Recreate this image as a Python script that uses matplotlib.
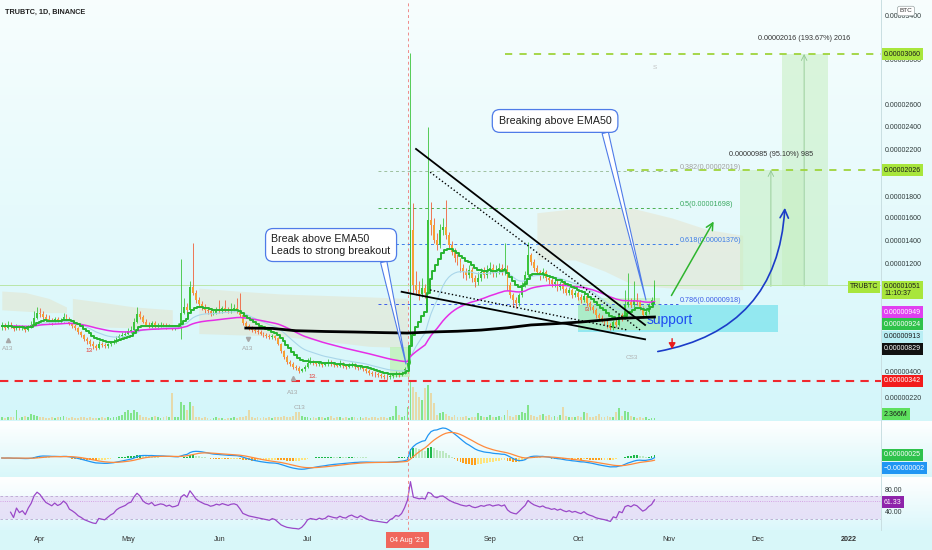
import numpy as np
import pandas as pd
import matplotlib
matplotlib.use("Agg")
import matplotlib.pyplot as plt
from matplotlib import transforms
from matplotlib.patches import Rectangle, FancyArrowPatch

plt.rcParams['font.family'] = ['Liberation Sans', 'DejaVu Sans']

# ---------------- data (prices in satoshi = 1e-8 BTC), daily bars from 2021-03-19 ----------------
first_date = "2021-03-19"
first_open = 750
closes = [
    760, 745, 770, 750, 735, 755, 740, 745, 730, 750, 770,
    820, 860, 850, 830, 810, 800, 790, 810, 795, 805, 830, 815,
    775, 760, 740, 710, 690, 660, 640, 620, 600, 590, 620, 610, 600, 615, 630, 640,
    665, 680, 690, 700, 720, 730, 790, 850, 830,
    790, 770, 760, 780, 750, 760, 770, 765, 750, 760, 745, 750, 760,
    860, 900, 880, 1040, 1000, 950, 920,
    900, 880, 870, 850, 860, 880, 870, 890, 880, 870, 885, 890, 880,
    840, 780, 760, 740, 730, 720, 710, 700, 690, 680, 670, 680, 665,
    620, 560, 520, 480, 460, 440, 430, 410, 420, 440, 470,
    480, 470, 460, 470, 455, 460, 475, 465, 455, 450, 460, 445, 440, 450, 455, 440, 430, 440, 425,
    410, 395, 390, 385, 380, 375, 370, 365, 375, 380, 390, 385, 395, 420, 470, 1500,
    1050, 1020, 990, 1030, 1000, 1580, 1540, 1410, 1365, 1496, 1520, 1450, 1365, 1305, 1252, 1218, 1171, 1143,
    1122, 1157, 1100, 1073, 1100, 1143, 1122, 1157, 1171, 1136, 1157, 1171, 1143, 1171,
    1051, 983, 949, 928, 983, 1051, 1122, 1278, 1218, 1171, 1143, 1115, 1143, 1100,
    1087, 1058, 1073, 1037, 1058, 1023, 1000, 1017, 983, 996, 969, 949, 976, 928,
    900, 879, 843, 821, 806, 790, 767, 743, 790, 767, 843, 821, 914, 935, 914, 949, 935, 893, 843, 864, 914, 949, 1051,
]
highs = [
    790, 785, 800, 790, 770, 775, 770, 765, 760, 770, 800,
    870, 900, 890, 870, 850, 840, 820, 830, 830, 820, 860, 850,
    830, 790, 775, 750, 720, 700, 670, 660, 640, 615, 640, 635, 625, 630, 645, 660,
    680, 700, 710, 720, 740, 760, 820, 900, 870,
    840, 810, 790, 800, 795, 780, 790, 785, 780, 775, 770, 765, 780,
    1240, 960, 930, 1080, 1380, 1020, 970,
    940, 920, 900, 890, 880, 900, 950, 910, 950, 900, 930, 920, 960,
    1000, 850, 800, 775, 755, 745, 735, 725, 715, 705, 700, 695, 690,
    675, 630, 575, 535, 495, 475, 455, 445, 435, 455, 510,
    520, 495, 485, 480, 480, 475, 500, 490, 480, 470, 490, 475, 460, 470, 480, 470, 450, 455, 450,
    440, 425, 410, 405, 400, 395, 390, 385, 390, 395, 405, 400, 410, 440, 500, 3070,
    1740, 1150, 1080, 1100, 1060, 2400, 1750, 1600, 1470, 1550, 1600, 1770, 1480, 1400, 1340, 1290, 1250, 1200,
    1170, 1190, 1180, 1120, 1140, 1170, 1180, 1190, 1220, 1200, 1190, 1210, 1200, 1380,
    1190, 1070, 1000, 970, 1000, 1070, 1150, 1390, 1300, 1240, 1190, 1160, 1170, 1160,
    1120, 1100, 1100, 1090, 1080, 1070, 1040, 1040, 1030, 1020, 1010, 990, 1000, 990,
    945, 915, 895, 860, 840, 825, 805, 780, 805, 810, 860, 860, 1020, 1136, 960, 1080, 1000, 950, 905, 880, 930, 970, 1090,
]
lows = [
    730, 730, 735, 740, 720, 725, 725, 725, 715, 720, 740,
    760, 810, 830, 815, 790, 780, 770, 780, 780, 780, 790, 800,
    765, 745, 725, 695, 670, 645, 620, 600, 580, 570, 580, 595, 585, 590, 600, 620,
    630, 650, 665, 675, 690, 705, 720, 780, 810,
    780, 755, 740, 745, 735, 735, 745, 750, 735, 740, 730, 730, 740,
    660, 850, 860, 870, 980, 930, 900,
    880, 860, 850, 835, 840, 850, 855, 860, 865, 855, 860, 870, 860,
    830, 770, 745, 725, 715, 705, 695, 690, 675, 665, 655, 660, 650,
    610, 545, 505, 465, 445, 425, 415, 395, 400, 410, 430,
    460, 455, 445, 450, 440, 445, 450, 450, 440, 440, 440, 435, 425, 430, 440, 425, 415, 420, 410,
    395, 380, 375, 370, 365, 360, 355, 350, 355, 360, 370, 370, 375, 385, 410, 460,
    1000, 980, 950, 970, 960, 990, 1450, 1380, 1320, 1340, 1450, 1420, 1330, 1280, 1220, 1190, 1140, 1100,
    1090, 1100, 1070, 1040, 1050, 1080, 1100, 1100, 1130, 1110, 1110, 1130, 1120, 1120,
    1020, 960, 900, 890, 910, 970, 1040, 1110, 1190, 1150, 1120, 1090, 1100, 1080,
    1060, 1040, 1040, 1010, 1020, 1000, 980, 985, 960, 970, 950, 925, 935, 910,
    880, 860, 825, 800, 790, 770, 745, 725, 730, 750, 755, 800, 810, 900, 895, 900, 915, 875, 820, 830, 850, 900, 940,
]
volumes_m = [
    4, 3, 5, 4, 5, 15, 3, 4, 6, 4, 9,
    8, 6, 5, 4, 3, 3, 4, 3, 5, 4, 6, 4,
    3, 4, 3, 3, 4, 5, 3, 4, 3, 3, 3, 4, 3, 4, 3, 4,
    5, 6, 8, 12, 15, 10, 15, 12, 8,
    4, 5, 3, 4, 6, 5, 3, 4, 6, 5, 40, 5, 4,
    27, 22, 15, 27, 21, 5, 4,
    3, 4, 3, 2, 3, 4, 3, 3, 2, 3, 3, 4, 3,
    4, 5, 6, 15, 4, 3, 4, 3, 5, 3, 4, 3, 4,
    4, 5, 6, 5, 4, 6, 12, 12, 6, 4, 5,
    3, 4, 3, 5, 4, 3, 4, 6, 3, 4, 5, 3, 4, 3, 4, 5, 3, 4, 3,
    4, 3, 5, 4, 3, 4, 5, 3, 4, 6, 21, 8, 5, 6, 20, 60,
    50, 42, 35, 30, 48, 52, 40, 25, 8, 10, 12, 9, 6, 5, 7, 4, 5, 4,
    6, 3, 5, 4, 10, 6, 4, 5, 7, 4, 5, 6, 5, 8,
    15, 6, 5, 7, 8, 12, 10, 22, 8, 6, 5, 7, 9, 6,
    8, 5, 6, 4, 7, 20, 6, 5, 4, 5, 6, 4, 12, 11,
    5, 4, 6, 9, 4, 5, 6, 4, 5, 12, 18, 6, 13, 12, 6, 4, 3, 5, 3, 4, 2, 3, 2.4,
]
# long moving average (black)
ma_long_days = [83, 92, 100, 110, 120, 130, 138, 146, 155, 163, 172, 180, 189, 197, 205, 210, 216, 222]
ma_long_vals = [743, 740, 722, 716, 712, 707, 704, 712, 718, 727, 745, 767, 778, 790, 806, 818, 824, 829]

month_labels = ["Apr", "May", "Jun", "Jul", "Sep", "Oct", "Nov", "Dec", "2022"]
month_dates = ["2021-04-01", "2021-05-01", "2021-06-01", "2021-07-01", "2021-09-01",
               "2021-10-01", "2021-11-01", "2021-12-01", "2022-01-01"]
marker_date = "2021-08-04"
marker_label = "04 Aug '21"

axis_ticks = [3400, 3000, 2600, 2400, 2200, 1800, 1600, 1400, 1200, 400, 220]
fib_ratios = ["0.382", "0.5", "0.618", "0.786"]
fib_prices = [2019, 1698, 1376, 918]
support_price = 342
last_price = 1051
target_prices = [2026, 3060]
entry_prices = [1041, 1044]
target_texts = ["0.00000985 (95.10%) 985", "0.00002016 (193.67%) 2016"]

# drawings (day index, price)
tl_upper = [(140.9, 2209), (218.8, 767)]
tl_lower = [(136.0, 1005), (218.8, 655)]
tl_dot_upper = [(145.7, 2008), (217.1, 728)]
tl_dot_lower = [(145.7, 1017), (212.7, 728)]

cloud_segments = [
    ([0, 8, 16, 22], [1010, 1000, 960, 900], [880, 870, 860, 860]),
    ([24, 35, 45, 58], [960, 930, 900, 880], [760, 750, 745, 750]),
    ([67, 80, 95, 110, 125, 138], [1030, 1010, 990, 980, 970, 960], [700, 690, 680, 640, 600, 590]),
    ([182, 195, 205, 215, 228, 240, 252], [1650, 1690, 1700, 1690, 1600, 1500, 1450],
     [1240, 1235, 1150, 1050, 1030, 1020, 1020]),
]

# ---------------- derived ----------------
n = min(len(closes), len(highs), len(lows), len(volumes_m))
c = np.array(closes[:n], float)
h = np.array(highs[:n], float)
l = np.array(lows[:n], float)
v = np.array(volumes_m[:n], float)
o = np.r_[first_open, c[:-1]]
x = np.arange(n)
t0 = pd.Timestamp(first_date)
month_idx = [(pd.Timestamp(d) - t0).days for d in month_dates]
mark_idx = (pd.Timestamp(marker_date) - t0).days

s = pd.Series(c)
ema10 = s.ewm(span=10, adjust=False).mean()
ema21 = s.ewm(span=21, adjust=False).mean()
ema50 = s.ewm(span=50, adjust=False).mean()
macd = s.ewm(span=12, adjust=False).mean() - s.ewm(span=26, adjust=False).mean()
signal = macd.ewm(span=9, adjust=False).mean()
hist = (macd - signal).values
delta = s.diff()
ag = delta.clip(lower=0).ewm(alpha=1/14, adjust=True).mean()
al = (-delta.clip(upper=0)).ewm(alpha=1/14, adjust=True).mean()
rsi = (100 - 100 / (1 + ag / al)).values
rsi[:3] = np.nan

# ---------------- figure ----------------
W, H = 932, 550
fig = plt.figure(figsize=(W / 100, H / 100), dpi=100)

def frect(x0, y0, x1, y1):
    return [x0 / W, 1 - y1 / H, (x1 - x0) / W, (y1 - y0) / H]

bg = fig.add_axes([0, 0, 1, 1], zorder=0)
bg.set_axis_off()
img = np.ones((H, 1, 3))
def grad(r0, r1, top, bot):
    t = np.linspace(0, 1, r1 - r0)[:, None]
    img[r0:r1, 0, :] = (1 - t) * np.array(top) + t * np.array(bot)
grad(0, 421, (0.97, 0.995, 0.995), (0.83, 0.965, 0.98))
grad(421, 477, (1, 1, 1), (0.85, 0.97, 0.98))
grad(477, 530, (1, 1, 1), (0.86, 0.97, 0.985))
grad(530, 550, (0.85, 0.97, 0.98), (0.85, 0.97, 0.98))
bg.imshow(img, aspect='auto', extent=[0, 1, 0, 1], interpolation='bilinear')
bg.set_xlim(0, 1); bg.set_ylim(0, 1)
bg.plot([881 / W] * 2, [1 - 530 / H, 1], color='#c9dfe2', lw=0.7)

XL = (-0.605, 299.05)
P_K = np.array([-2000, 220, 342, 400, 829, 949, 1051, 1200, 1400, 1600, 1800, 2026, 2200, 2400, 2600, 3060, 3400, 10000], float)
Y_K = np.array([709, 398, 381, 372, 317, 300, 285, 264, 241, 218, 197, 170, 150, 127, 105, 54, 16, -723], float)
def fwd(p):
    return -np.interp(p, P_K, Y_K)
def inv(z):
    return np.interp(-np.asarray(z), Y_K[::-1], P_K[::-1])

def clean(a):
    a.set_facecolor('none')
    for sp in a.spines.values():
        sp.set_visible(False)
    a.tick_params(which='both', left=False, labelleft=False, bottom=False, labelbottom=False)
    a.set_xlim(*XL)

ax_vol = fig.add_axes(frect(0, 0, 881, 420), zorder=1)
ax = fig.add_axes(frect(0, 0, 881, 420), zorder=2)
ax_m = fig.add_axes(frect(0, 421, 881, 477), zorder=2)
ax_r = fig.add_axes(frect(0, 477, 881, 530), zorder=2)
ax.set_yscale('function', functions=(fwd, inv))
for a in (ax_vol, ax, ax_m, ax_r):
    clean(a)
ax.set_ylim(63, 3543)
ax.set_yticks([]); ax.set_yticks([], minor=True)

up = c >= o
# volume
ax_vol.bar(x, v, width=0.62, color=np.where(up, '#7fe386', '#e8d9a6'), lw=0, alpha=0.95)
ax_vol.set_ylim(0, 630)

# clouds
for days, top, bot in cloud_segments:
    ax.fill_between(days, top, bot, color='#e9d6ae', alpha=0.32, lw=0, zorder=1)

# boxes
ax.add_patch(Rectangle((196, 712), 68, 914 - 712, fc='#86e6ef', ec='none', alpha=0.85, zorder=1.5))
ax.add_patch(Rectangle((196, 727), 28, 963 - 727, fc='#bdf0ae', ec='none', alpha=0.6, zorder=1.6))
ax.add_patch(Rectangle((132, 368), 7, 595 - 368, fc='#bdf0ae', ec='none', alpha=0.7, zorder=1.6))
# long-position boxes
ax.add_patch(Rectangle((251.1, entry_prices[0]), 21.4, target_prices[0] - entry_prices[0], fc='#c6efc0', ec='none', alpha=0.55, zorder=1.7))
ax.add_patch(Rectangle((265.4, entry_prices[1]), 15.6, target_prices[1] - entry_prices[1], fc='#c6efc0', ec='none', alpha=0.55, zorder=1.7))
for xi, p0, p1 in [(261.6, entry_prices[0], target_prices[0]), (272.9, entry_prices[1], target_prices[1])]:
    ax.annotate('', xy=(xi, p1), xytext=(xi, p0),
                arrowprops=dict(arrowstyle='->', color='#90c890', lw=0.6, shrinkA=0, shrinkB=0), zorder=2)
for xi, p, txt in [(261.6, target_prices[0], target_texts[0]), (272.9, target_prices[1], target_texts[1])]:
    ax.annotate(txt, xy=(xi, p), xytext=(0, 16), textcoords='offset pixels', ha='center', va='center',
                fontsize=5.2, color='#333333', zorder=12)

# horizontal levels
ax.axhline(last_price, color='#b9e6a8', lw=0.7, zorder=3)
ax.axhline(support_price, color='#f0282d', lw=1.5, ls=(0, (4, 3)), zorder=4)
ax.plot([171, XL[1]], [target_prices[1]] * 2, color='#9fd43c', lw=1.3, ls=(0, (4, 4)), zorder=3)
ax.plot([212.7, XL[1]], [target_prices[0]] * 2, color='#9fd43c', lw=1.3, ls=(0, (4, 4)), zorder=3)
fib_cols = ['#9fc09f', '#4cb050', '#3d7de8', '#3d5de8']
fib_tcols = ['#a0a0a0', '#3aa860', '#3d7de8', '#3d5de8']
for r, p, lc, tc in zip(fib_ratios, fib_prices, fib_cols, fib_tcols):
    ax.plot([128, 230], [p, p], color=lc, lw=0.7, ls=(0, (3, 3)), zorder=3)
    ax.text(230.7, p, f"{r}({p*1e-8:.8f})", color=tc, fontsize=5.2, ha='left', va='bottom', zorder=3)

ax.text(219.5, 806, 'support', color='#1f4cf0', fontsize=10, ha='left', va='center', zorder=5)

# candles
ax.vlines(x, l, h, colors=np.where(up, '#3cc43c', '#f0603a'), lw=0.6, zorder=6)
ax.bar(x, np.maximum(np.abs(c - o), 3), bottom=np.minimum(o, c), width=0.62,
       color=np.where(up, '#3cc43c', '#f7a035'), lw=0, zorder=7)

# moving averages
ax.plot(x, ema21, color='#a9d6ea', lw=0.8, zorder=8)
ax.plot(x, ema50, color='#e62ee6', lw=1.1, zorder=8)
ax.step(x, ema10, where='mid', color='#27b530', lw=1.4, zorder=8)
ax.plot(ma_long_days, ma_long_vals, color='black', lw=2.0, zorder=8)

# trendlines
for pts, ls, lw in [(tl_upper, '-', 1.3), (tl_lower, '-', 1.3), (tl_dot_upper, ':', 1.0), (tl_dot_lower, ':', 1.0)]:
    ax.plot([pts[0][0], pts[1][0]], [pts[0][1], pts[1][1]], color='black', ls=ls, lw=lw, zorder=9)

# arrows
ax.add_patch(FancyArrowPatch((227.3, 963), (242.6, 1591), arrowstyle='->,head_length=5,head_width=2.5',
                             color='#2eb52e', lw=1.1, zorder=10))
ax.add_patch(FancyArrowPatch((222.2, 556), (266.4, 1724), connectionstyle='arc3,rad=0.4',
                             arrowstyle='->,head_length=6,head_width=3', color='#1b3cc8', lw=1.2, zorder=10))
ax.annotate('', xy=(228, 579), xytext=(228, 660),
            arrowprops=dict(arrowstyle='-|>,head_length=0.35,head_width=0.2', color='#e81b1b', lw=1.0, shrinkA=0, shrinkB=0), zorder=10)

# small signal labels
for txt, xi, p, col in [("13", 29.7, 564, '#e53935'), ("13.", 105.9, 368, '#e53935'), ("A13", 2.1, 580, '#a8a8a8'),
                        ("A13", 83.7, 587, '#a8a8a8'), ("A13", 99, 263, '#a8a8a8'), ("C13", 101.4, 149, '#a8a8a8'),
                        ("CS3", 214.4, 517, '#b0b0b0'), ("S", 222.2, 2935, '#c0c0c0'), ("I3", 199, 879, '#e53935')]:
    ax.text(xi, p, txt, color=col, fontsize=4.6, ha='center', va='center', zorder=9)
ax.plot([83.7], [657], marker='v', color='#a8a8a8', ms=3, zorder=9)
ax.plot([99], [361], marker='^', color='#a8a8a8', ms=3, zorder=9)
ax.plot([2.1], [649], marker='^', color='#a8a8a8', ms=3, zorder=9)

# callouts
call_kw = dict(textcoords='data', ha='center', va='center', fontsize=7.7, color='#1e1e1e', zorder=20)
ax.annotate("Breaking above EMA50", xy=(219.1, 949), xytext=(188.2, 2455),
            bbox=dict(boxstyle='round,pad=0.6,rounding_size=0.7', fc='white', ec='#4f7be8', lw=0.9),
            arrowprops=dict(arrowstyle='wedge,tail_width=0.6,shrink_factor=0.5', fc='white', ec='#4f7be8',
                            lw=0.8, relpos=(0.93, 0.0), shrinkA=0, shrinkB=0), **call_kw)
ax.annotate("Break above EMA50\nLeads to strong breakout", xy=(137.5, 462), xytext=(112.0, 1365),
            bbox=dict(boxstyle='round,pad=0.55,rounding_size=0.7', fc='white', ec='#4f7be8', lw=0.9),
            arrowprops=dict(arrowstyle='wedge,tail_width=0.6,shrink_factor=0.5', fc='white', ec='#4f7be8',
                            lw=0.8, relpos=(0.93, 0.0), shrinkA=0, shrinkB=0),
            multialignment='left', linespacing=1.15, **call_kw)

# MACD pane
hprev = np.r_[0, hist[:-1]]
hcol = np.where(hist >= 0, np.where(hist >= hprev, '#1eb84a', '#bde8c2'),
                np.where(hist <= hprev, '#ff9f1a', '#ffe37a'))
ax_m.bar(x, hist, width=0.62, color=hcol, lw=0)
ax_m.plot(x, macd, color='#2196f3', lw=0.9)
ax_m.plot(x, signal, color='#ff8a3d', lw=0.9)
peak = float(max(macd.max(), signal.max()))
ax_m.set_ylim(-19 / 30 * peak, 37 / 30 * peak)

# RSI pane
ax_r.axhspan(30, 70, color='#e6dcf6', alpha=0.8, lw=0)
ax_r.axhline(70, color='#b9a6cf', lw=0.6, ls=(0, (3, 3)))
ax_r.axhline(30, color='#b9a6cf', lw=0.6, ls=(0, (3, 3)))
ax_r.axhline(61.33, color='#cf8fe0', lw=0.6, ls=':')
ax_r.plot(x, rsi, color='#9a48c8', lw=0.9)
ax_r.set_ylim(10.4, 102.6)

for a in (ax, ax_m, ax_r):
    a.axvline(mark_idx, color='#ef8a8a', lw=0.7, ls=(0, (3, 3)), zorder=2)

ax_r.set_xticks(month_idx)
ax_r.set_xticklabels(month_labels)
ax_r.tick_params(axis='x', which='both', bottom=False, labelbottom=True, length=0, pad=4.5, labelsize=5.2, labelcolor='#333333')
ax_r.get_xticklabels()[-1].set_fontweight('bold')
ax_r.text(mark_idx, -0.19, marker_label, transform=transforms.blended_transform_factory(ax_r.transData, ax_r.transAxes),
          ha='center', va='center', fontsize=5.2, color='white', clip_on=False, zorder=30,
          bbox=dict(boxstyle='square,pad=0.6', fc='#f0675c', ec='none'))

# right price axis
ytr = transforms.blended_transform_factory(ax.transAxes, ax.transData)
for tv in axis_ticks:
    ax.text(885 / 881, tv, f"{tv*1e-8:.8f}", transform=ytr, ha='left', va='center', fontsize=5,
            color='#2f3a3a', clip_on=False, zorder=30)

def box_label(ypx, s_, fc, tc, x0=884, ha='left'):
    fig.text(x0 / W, 1 - ypx / H, s_, ha=ha, va='center', color=tc, fontsize=5, linespacing=1.0,
             bbox=dict(boxstyle='square,pad=0.32', fc=fc, ec='none'), zorder=40)

LIME = '#a8e63c'
box_label(54, f"{target_prices[1]*1e-8:.8f}", LIME, '#1a1a1a')
box_label(170, f"{target_prices[0]*1e-8:.8f}", LIME, '#1a1a1a')
box_label(290, f"{last_price*1e-8:.8f}\n11:10:37", LIME, '#1a1a1a')
box_label(287, "TRUBTC", LIME, '#1a1a1a', x0=864, ha='center')
box_label(312, "0.00000949", '#e040f0', 'white')
box_label(324, "0.00000924", '#2fc24a', 'white')
box_label(337, "0.00000913", '#b8eef4', '#1a1a1a')
box_label(349, "0.00000829", '#111111', 'white')
box_label(381, f"{support_price*1e-8:.8f}", '#f21b1b', 'white')
box_label(414, "2.366M", '#5ee05e', '#1a1a1a')
box_label(455, "0.00000025", '#2ec24c', 'white')
box_label(468, "\u22120.00000002", '#2196f3', 'white')
fig.text(885 / W, 1 - 490 / H, "80.00", fontsize=5, color='#2f3a3a', va='center', zorder=40)
box_label(502, "61.33", '#8e24aa', 'white')
fig.text(885 / W, 1 - 513 / H, "40.00", fontsize=5, color='#2f3a3a', va='center', zorder=40)

fig.text(906 / W, 1 - 11 / H, "BTC", ha='center', va='center', fontsize=4.6, color='#333333', zorder=41,
         bbox=dict(boxstyle='round,pad=0.35', fc='white', ec='#9aa5a5', lw=0.5))
fig.text(5 / W, 1 - 12 / H, "TRUBTC, 1D, BINANCE", fontsize=5.2, fontweight='bold', color='#222222', va='center', zorder=40)

fig.savefig('out.png', dpi=100)
